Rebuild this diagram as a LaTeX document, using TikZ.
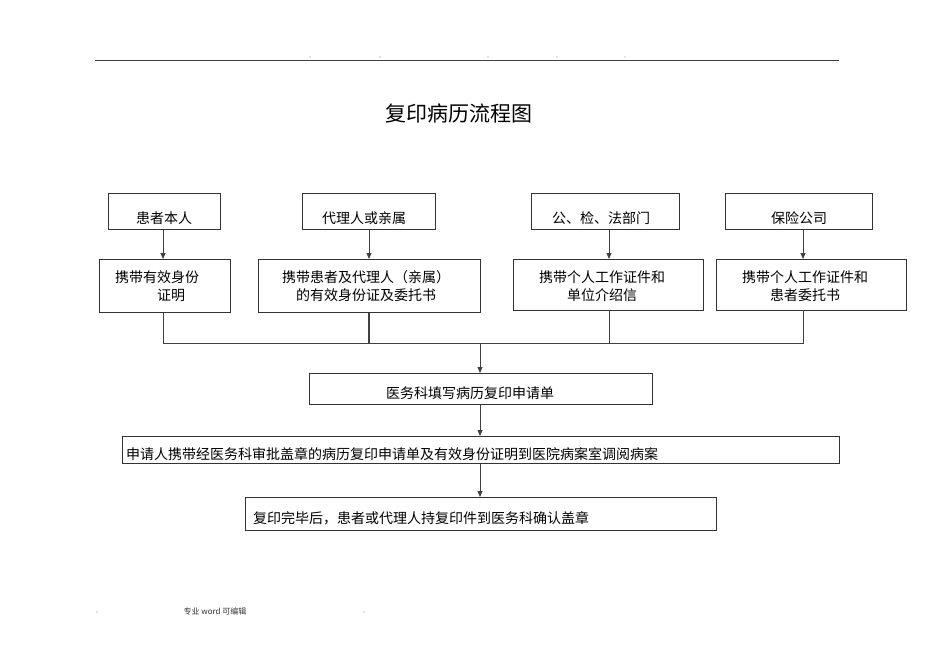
\documentclass[tikz,border=0pt]{standalone}
\usepackage{fontspec}
\newfontfamily\cjk{Noto Sans CJK SC}
\usetikzlibrary{arrows.meta}
\begin{document}
\begin{tikzpicture}[x=1pt,y=-1pt,
  bx/.style={draw=black!80,line width=0.8pt,inner sep=0,anchor=north west},
  tx/.style={font=\cjk\fontsize{14}{18}\selectfont,inner sep=0,align=center},
  ln/.style={draw=black!75,line width=0.8pt},
  ar/.style={ln,-{Triangle[length=6pt,width=5pt]}}]
\useasboundingbox (0,0) rectangle (950,671);
\draw[line width=1pt,black!75] (95,61) -- (839,61);
\foreach \x in {310,380,488,557,625} \fill[black!50] (\x,57) circle (0.6);
\node[font=\cjk\fontsize{21}{24}\selectfont] (title) at (459,114) {复印病历流程图};
% top row
\node[bx,minimum width=112,minimum height=36] (a1) at (108,193) {};
\node[bx,minimum width=133,minimum height=36] (a2) at (302,193) {};
\node[bx,minimum width=148,minimum height=36] (a3) at (531,193) {};
\node[bx,minimum width=147,minimum height=36] (a4) at (725,193) {};
\node[tx] (ta1) at (164,218) {患者本人};
\node[tx] (ta2) at (364,218) {代理人或亲属};
\node[tx] (ta3) at (601,218) {公、检、法部门};
\node[tx] (ta4) at (799,218) {保险公司};
% second row
\node[bx,minimum width=131,minimum height=53] (b1) at (99,259) {};
\node[bx,minimum width=222,minimum height=53] (b2) at (258,259) {};
\node[bx,minimum width=190,minimum height=51] (b3) at (513,259) {};
\node[bx,minimum width=190,minimum height=51] (b4) at (716,259) {};
\node[tx,align=left] (tb1) at (157,286) {携带有效身份\\\hspace*{3em}证明};
\node[tx] (tb2) at (366,286) {携带患者及代理人（亲属）\\的有效身份证及委托书};
\node[tx] (tb3) at (602,286) {携带个人工作证件和\\单位介绍信};
\node[tx] (tb4) at (805,286) {携带个人工作证件和\\患者委托书};
% lower boxes
\node[bx,minimum width=343,minimum height=31] (c1) at (309,373) {};
\node[tx] (tc1) at (470,393) {医务科填写病历复印申请单};
\node[bx,minimum width=717,minimum height=27] (c2) at (122,436) {};
\node[tx,anchor=west] (tc2) at (126,454) {申请人携带经医务科审批盖章的病历复印申请单及有效身份证明到医院病案室调阅病案};
\node[bx,minimum width=471,minimum height=33] (c3) at (245,497) {};
\node[tx,anchor=west] (tc3) at (253,518) {复印完毕后，患者或代理人持复印件到医务科确认盖章};
% connectors
\coordinate (j1) at (163,343); \coordinate (j2) at (369,343);
\coordinate (j3) at (609,343); \coordinate (j4) at (803,343);
\coordinate (jc) at (480,343);
\draw[ar] (a1.south -| j1) -- (b1.north -| j1);
\draw[ar] (a2.south -| j2) -- (b2.north -| j2);
\draw[ar] (a3.south -| j3) -- (b3.north -| j3);
\draw[ar] (a4.south -| j4) -- (b4.north -| j4);
\draw[ln] (b1.south -| j1) -- (j1) -- (j4) -- (b4.south -| j4);
\draw[ln,line width=1.2pt] (b2.south -| j2) -- (j2);
\draw[ln] (b3.south -| j3) -- (j3);
\draw[ar] (jc) -- (c1.north -| jc);
\draw[ar] (c1.south -| jc) -- (c2.north -| jc);
\draw[ar] (c2.south -| jc) -- (c3.north -| jc);
% footer
\fill[black!50] (97,612) circle (0.6);
\fill[black!50] (364,612) circle (0.6);
\node[font=\cjk\fontsize{8}{10}\selectfont,text=black!80] (foot) at (215,611) {专业 word 可编辑};
\end{tikzpicture}
\end{document}
